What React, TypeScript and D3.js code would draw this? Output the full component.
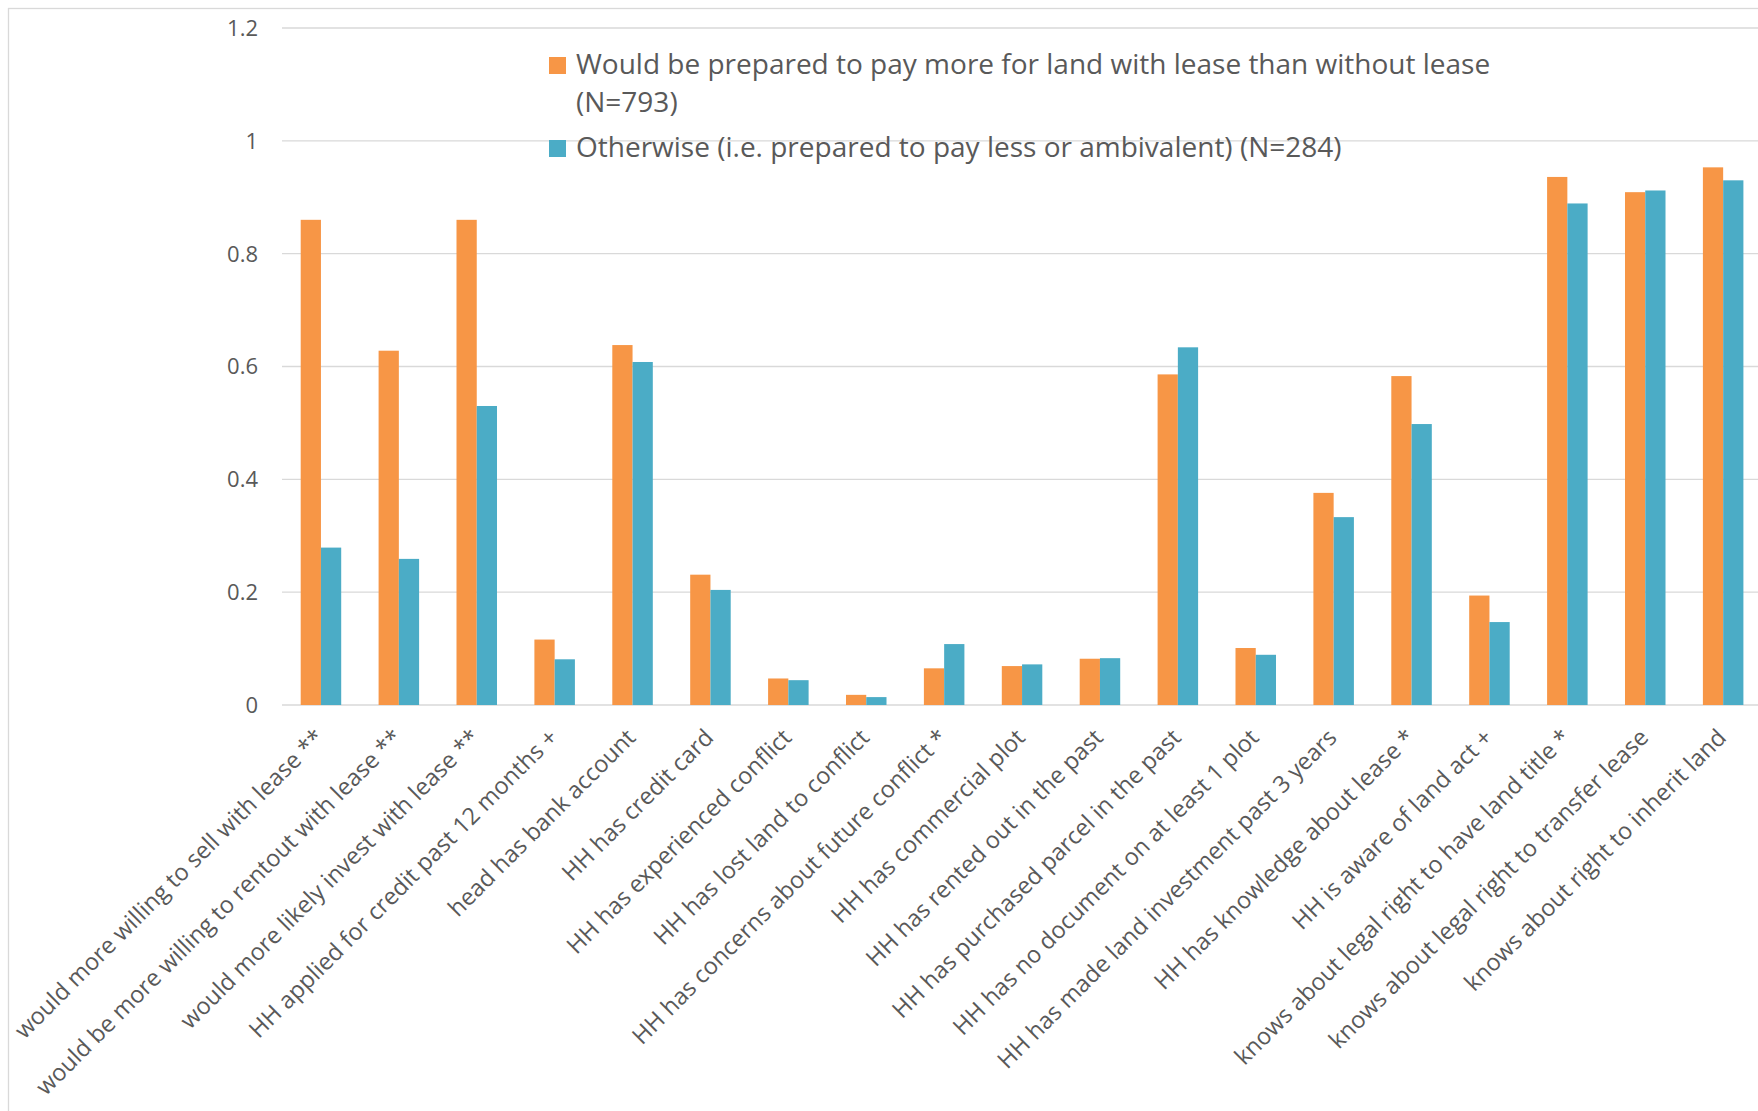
import React from "react";
import * as d3 from "d3";

const categories: string[] = [
  "would more willing to sell with lease **",
  "would be more willing to rentout with lease **",
  "would more likely invest with lease **",
  "HH applied for credit past 12 months +",
  "head has bank account",
  "HH has credit card",
  "HH has experienced conflict",
  "HH has lost land to conflict",
  "HH has concerns about future conflict *",
  "HH has commercial plot",
  "HH has rented out in the past",
  "HH has purchased parcel in the past",
  "HH has no document on at least 1 plot",
  "HH has made land investment past 3 years",
  "HH has knowledge about lease *",
  "HH is aware of land act +",
  "knows about legal right to have land title *",
  "knows about legal right to transfer lease",
  "knows about right to inherit land",
];

const seriesMore: number[] = [
  0.86, 0.628, 0.86, 0.116, 0.638, 0.231, 0.047, 0.018, 0.065, 0.069,
  0.082, 0.586, 0.101, 0.376, 0.583, 0.194, 0.936, 0.909, 0.953,
];
const seriesOther: number[] = [
  0.279, 0.259, 0.53, 0.081, 0.608, 0.204, 0.044, 0.014, 0.108, 0.072,
  0.083, 0.634, 0.089, 0.333, 0.498, 0.147, 0.889, 0.912, 0.930,
];

const seriesNames: string[][] = [
  ["Would be prepared to pay more for land with lease than without lease", "(N=793)"],
  ["Otherwise (i.e. prepared to pay less or ambivalent) (N=284)"],
];
const seriesColors: string[] = ["#F79646", "#4BACC6"];
const yTicks: number[] = [0, 0.2, 0.4, 0.6, 0.8, 1, 1.2];

const W = 1758;
const H = 1111;
const FONT = "'Open Sans', 'Segoe UI', sans-serif";
const TEXT = "#595959";
const GRID = "#D9D9D9";

export default function App() {
  const plotLeft = 282;
  const step = 77.9;
  const plotRight = plotLeft + step * categories.length;
  const x0 = d3
    .scaleBand<string>()
    .domain(categories)
    .range([plotLeft, plotRight])
    .paddingInner(0.48)
    .paddingOuter(0.24);
  const x1 = d3.scaleBand<number>().domain([0, 1]).range([0, x0.bandwidth()]).padding(0);
  const y = d3.scaleLinear().domain([0, 1.2]).range([705, 28]);
  const series = [seriesMore, seriesOther];

  return (
    <div style={{ position: "absolute", left: 0, top: 0, width: W, height: H, overflow: "hidden", background: "#fff" }}>
      <svg width={W} height={H} style={{ display: "block" }} fontFamily={FONT}>
        <rect x={8.5} y={8.5} width={W + 20} height={H + 20} fill="#fff" stroke={GRID} strokeWidth={1.3} />
        {yTicks.map((t) => (
          <g key={t}>
            <line x1={plotLeft} x2={W} y1={y(t)} y2={y(t)} stroke={GRID} strokeWidth={t === 0 ? 1.6 : 1.3} />
            <text x={258} y={y(t)} dy="0.36em" textAnchor="end" fontSize={22} fill={TEXT}>
              {d3.format("~g")(t)}
            </text>
          </g>
        ))}
        {categories.map((c, i) => (
          <g key={c}>
            {series.map((s, k) => (
              <rect
                key={k}
                x={(x0(c) as number) + (x1(k) as number)}
                y={y(s[i])}
                width={x1.bandwidth()}
                height={y(0) - y(s[i])}
                fill={seriesColors[k]}
              />
            ))}
          </g>
        ))}
        {categories.map((c) => {
          const cx = (x0(c) as number) + x0.bandwidth() / 2;
          return (
            <text
              key={c}
              transform={`translate(${cx + 4.5},739) rotate(-45)`}
              textAnchor="end"
              fontSize={23.5}
              fill={TEXT}
            >
              {c}
            </text>
          );
        })}
        <g>
          <rect x={549} y={57} width={17} height={17} fill={seriesColors[0]} />
          <text x={576} y={74} fontSize={28} fill={TEXT}>{seriesNames[0][0]}</text>
          <text x={576} y={112} fontSize={28} fill={TEXT}>{seriesNames[0][1]}</text>
          <rect x={549} y={140} width={17} height={17} fill={seriesColors[1]} />
          <text x={576} y={157} fontSize={28} fill={TEXT}>{seriesNames[1][0]}</text>
        </g>
      </svg>
    </div>
  );
}
